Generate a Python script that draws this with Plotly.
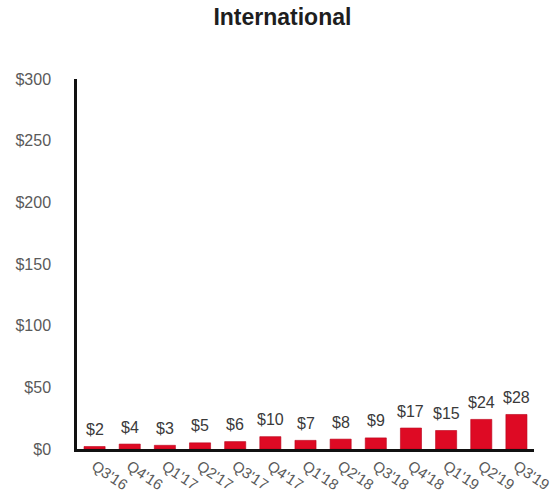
import plotly.graph_objects as go

# Quarterly international revenue ($)
quarters = ["Q3'16", "Q4'16", "Q1'17", "Q2'17", "Q3'17", "Q4'17", "Q1'18",
            "Q2'18", "Q3'18", "Q4'18", "Q1'19", "Q2'19", "Q3'19"]
revenue = [2, 4, 3, 5, 6, 10, 7, 8, 9, 17, 15, 24, 28]
y_ticks = [0, 50, 100, 150, 200, 250, 300]
y_tick_text = ["$0", "$50", "$100", "$150", "$200", "$250", "$300"]

FONT = "Liberation Sans, Arial, sans-serif"

fig = go.Figure()
fig.add_trace(go.Bar(
    x=quarters,
    y=revenue,
    width=0.6,
    marker=dict(color="#DE0A24", line=dict(color="#B8001A", width=0.6)),
    hoverinfo="skip",
))

# Value labels above each bar
for q, v in zip(quarters, revenue):
    fig.add_annotation(
        x=q, y=v, text=f"${v}", showarrow=False,
        yanchor="middle", yshift=17,
        font=dict(family=FONT, size=16, color="#3a3a3a"),
    )

fig.update_layout(
    width=557, height=497,
    margin=dict(l=77, r=23, t=79, b=48, autoexpand=False),
    paper_bgcolor="white", plot_bgcolor="white",
    showlegend=False,
    title=dict(
        text="<b>International</b>", x=0.507, xanchor="center",
        y=1 - 17 / 497, yanchor="middle",
        font=dict(family=FONT, size=23, color="#1e1e1e"),
    ),
    bargap=0.4,
)
fig.update_xaxes(
    type="category", range=[-0.5, 12.5],
    showline=True, linecolor="#111", linewidth=2.5,
    showgrid=False, ticks="", tickangle=34,
    tickfont=dict(family=FONT, size=15, color="#5a5a5a"),
    automargin=False,
)
fig.update_yaxes(
    range=[0, 300], tickvals=y_ticks, ticktext=y_tick_text,
    showline=True, linecolor="#111", linewidth=2.5,
    showgrid=False, zeroline=False, ticks="",
    ticklabelstandoff=20,
    tickfont=dict(family=FONT, size=16, color="#5a5a5a"),
    automargin=False,
)

fig.write_html("out.html")
